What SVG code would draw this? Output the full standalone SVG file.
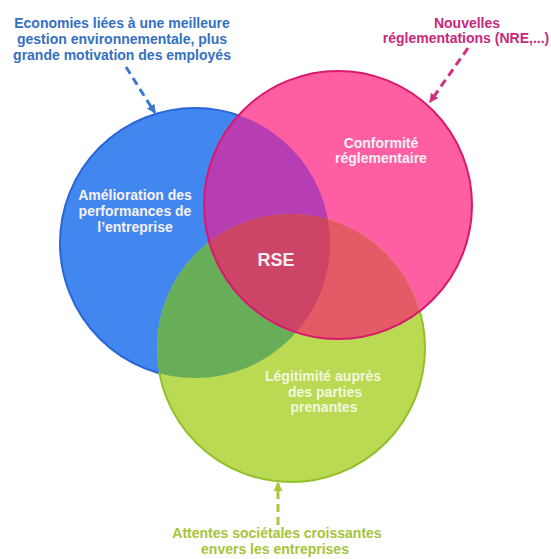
<svg xmlns="http://www.w3.org/2000/svg" width="551" height="559" viewBox="0 0 551 559">
<style>
text{font-family:"Liberation Sans",Arial,sans-serif;font-weight:bold;font-size:14px;text-anchor:middle}
.in{fill:#f6f2f6}
.ing{fill:#f4f7df}
.lb{fill:#3470c2}
.lp{fill:#c8287c}
.lg{fill:#a6c43a}
.rse{font-size:18px;fill:#f4eef2}
.dash{fill:none;stroke-width:3;stroke-dasharray:8 5}
</style>
<defs>
<clipPath id="cB"><circle cx="195" cy="243" r="135"/></clipPath>
<clipPath id="cP"><circle cx="338" cy="205" r="134"/></clipPath>
<mask id="mOutB" maskUnits="userSpaceOnUse" x="0" y="0" width="551" height="559">
<rect width="551" height="559" fill="#fff"/>
<circle cx="338" cy="205" r="133" fill="#000"/>
<circle cx="291" cy="348" r="133" fill="#000"/>
</mask>
<mask id="mOutG" maskUnits="userSpaceOnUse" x="0" y="0" width="551" height="559">
<rect width="551" height="559" fill="#fff"/>
<circle cx="338" cy="205" r="133" fill="#000"/>
<circle cx="195" cy="243" r="134" fill="#000"/>
</mask>
<marker id="mB" viewBox="0 0 10 10" refX="9" refY="5" markerWidth="9" markerHeight="9" markerUnits="userSpaceOnUse" orient="auto"><path d="M0,0 L10,5 L0,10 z" fill="#3a78d0"/></marker>
<marker id="mP" viewBox="0 0 10 10" refX="9" refY="5" markerWidth="9" markerHeight="9" markerUnits="userSpaceOnUse" orient="auto"><path d="M0,0 L10,5 L0,10 z" fill="#d0307e"/></marker>
<marker id="mG" viewBox="0 0 10 10" refX="9" refY="5" markerWidth="9" markerHeight="9" markerUnits="userSpaceOnUse" orient="auto"><path d="M0,0 L10,5 L0,10 z" fill="#a8c83a"/></marker>
</defs>
<rect width="551" height="559" fill="#ffffff"/>
<g id="circle-blue">
<circle cx="195" cy="243" r="135" fill="#4286f0"/>
</g>
<g id="circle-pink">
<circle cx="338" cy="205" r="134" fill="#ff5fa2"/>
</g>
<g id="circle-green">
<circle cx="291" cy="348" r="134" fill="#b9da52"/>
</g>
<g id="overlaps">
<circle cx="338" cy="205" r="134" fill="#b73db2" clip-path="url(#cB)"/>
<circle cx="291" cy="348" r="134" fill="#68ae58" clip-path="url(#cB)"/>
<circle cx="291" cy="348" r="134" fill="#e45a66" clip-path="url(#cP)"/>
<g clip-path="url(#cP)"><circle cx="291" cy="348" r="134" fill="#cc4466" clip-path="url(#cB)"/></g>
</g>
<g id="outlines" fill="none" stroke-width="2">
<circle cx="195" cy="243" r="135" stroke="#2a66d6" mask="url(#mOutB)"/>
<circle cx="291" cy="348" r="134" stroke="#92c028" mask="url(#mOutG)"/>
<circle cx="338" cy="205" r="134" stroke="#d8196e"/>
</g>
<g id="node-ameliorations">
<text class="in" x="135" y="200">Amélioration des</text>
<text class="in" x="135" y="216">performances de</text>
<text class="in" x="135" y="232">l’entreprise</text>
</g>
<g id="node-conformite">
<text class="in" x="381" y="148">Conformité</text>
<text class="in" x="381" y="163">réglementaire</text>
</g>
<g id="node-legitimite">
<text class="ing" x="323" y="381">Légitimité auprès</text>
<text class="ing" x="325" y="397">des parties</text>
<text class="ing" x="324" y="412">prenantes</text>
</g>
<g id="node-rse">
<text class="rse" x="276" y="266">RSE</text>
</g>
<g id="label-economies">
<text class="lb" x="122" y="28">Economies liées à une meilleure</text>
<text class="lb" x="122" y="44">gestion environnementale, plus</text>
<text class="lb" x="122" y="60">grande motivation des employés</text>
</g>
<g id="label-nouvelles">
<text class="lp" x="467" y="28">Nouvelles</text>
<text class="lp" x="466" y="43">réglementations (NRE,...)</text>
</g>
<g id="label-attentes">
<text class="lg" x="277" y="538">Attentes sociétales croissantes</text>
<text class="lg" x="275" y="554">envers les entreprises</text>
</g>
<g id="connectors">
<line class="dash" x1="278" y1="525" x2="278" y2="483" stroke="#a8c83a" marker-end="url(#mG)"/>
<line class="dash" x1="126" y1="67" x2="155" y2="113" stroke="#3a78d0" marker-end="url(#mB)"/>
<line class="dash" x1="468" y1="48" x2="430" y2="102" stroke="#d0307e" marker-end="url(#mP)"/>
</g>
</svg>
